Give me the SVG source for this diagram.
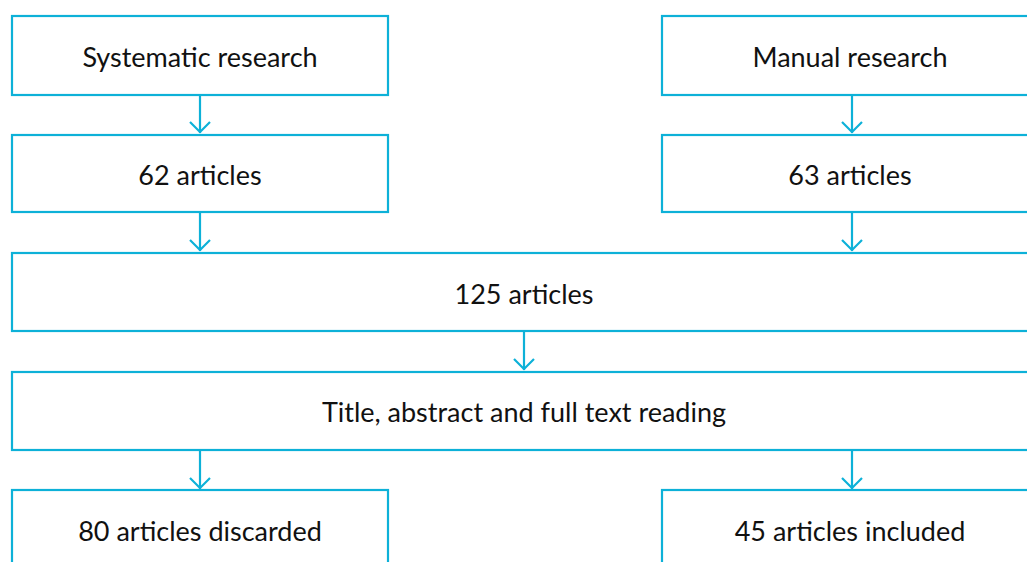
<svg xmlns="http://www.w3.org/2000/svg" width="1027" height="562" viewBox="0 0 1027 562">
<defs>
<style>
.box{fill:#fff;stroke:#0db1d8;stroke-width:2.2}
.lbl{font-family:Lato,"Open Sans",sans-serif;font-size:27px;fill:#111;text-anchor:middle}
.con{stroke:#0db1d8;stroke-width:2.2;fill:none}
</style>
</defs>
<rect width="1027" height="562" fill="#fff"/>
<g id="connectors">
<line class="con" x1="200" y1="95" x2="200" y2="133" />
<path class="con" d="M190 122 L200 132 L210 122"/>
<line class="con" x1="852" y1="95" x2="852" y2="133"/>
<path class="con" d="M842 122 L852 132 L862 122"/>
<line class="con" x1="200" y1="212" x2="200" y2="251"/>
<path class="con" d="M190 240 L200 250 L210 240"/>
<line class="con" x1="852" y1="212" x2="852" y2="251"/>
<path class="con" d="M842 240 L852 250 L862 240"/>
<line class="con" x1="524" y1="331" x2="524" y2="370"/>
<path class="con" d="M514 359 L524 369 L534 359"/>
<line class="con" x1="200" y1="450" x2="200" y2="489"/>
<path class="con" d="M190 478 L200 488 L210 478"/>
<line class="con" x1="852" y1="450" x2="852" y2="489"/>
<path class="con" d="M842 478 L852 488 L862 478"/>
</g>
<g id="n1"><rect class="box" x="12" y="16" width="376" height="79"/><text class="lbl" x="200" y="67">Systematic research</text></g>
<g id="n2"><rect class="box" x="662" y="16" width="376" height="79"/><text class="lbl" x="850" y="67">Manual research</text></g>
<g id="n3"><rect class="box" x="12" y="135" width="376" height="77"/><text class="lbl" x="200" y="185">62 articles</text></g>
<g id="n4"><rect class="box" x="662" y="135" width="376" height="77"/><text class="lbl" x="850" y="185">63 articles</text></g>
<g id="n5"><rect class="box" x="12" y="253" width="1026" height="78"/><text class="lbl" x="524" y="304">125 articles</text></g>
<g id="n6"><rect class="box" x="12" y="372" width="1026" height="78"/><text class="lbl" x="524" y="422">Title, abstract and full text reading</text></g>
<g id="n7"><rect class="box" x="12" y="490" width="376" height="80"/><text class="lbl" x="200" y="541">80 articles discarded</text></g>
<g id="n8"><rect class="box" x="662" y="490" width="376" height="80"/><text class="lbl" x="850" y="541">45 articles included</text></g>
</svg>
